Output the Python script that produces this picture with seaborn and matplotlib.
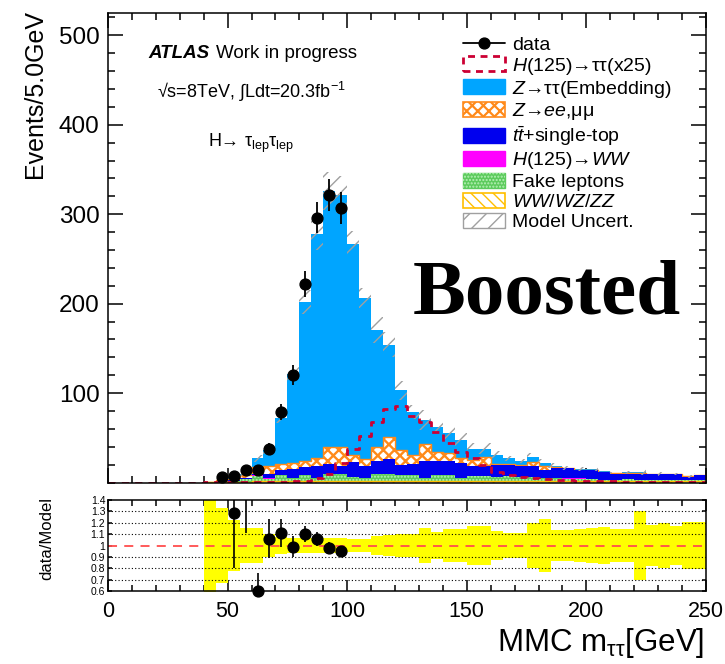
import numpy as np
import matplotlib
matplotlib.use("Agg")
import matplotlib.pyplot as plt
import seaborn as sns
from matplotlib.lines import Line2D
from matplotlib.patches import Patch, Rectangle
from matplotlib.ticker import MultipleLocator, FixedLocator

# ---------------- values ----------------
bin_edges = np.arange(0, 255, 5)            # 5 GeV bins from 0 to 250
bin_centers = bin_edges[:-1] + 2.5

diboson = [0, 0, 0, 0, 0, 0, 0, 0,
           0.3, 0.5, 1, 1, 1.5, 2, 2, 2, 2, 2,
           2, 2, 2, 2, 2, 2, 2, 2, 2, 2,
           2, 2, 2, 2, 2, 2, 2, 2, 2, 2,
           2, 2, 1.5, 1.5, 1.5, 1.5, 1.5, 1.5, 1.5, 1.5, 1.5, 1.5]
fakes = [0, 0, 0, 0, 0, 0, 0, 0,
         0, 1, 1, 3, 6, 2, 6, 3, 6, 3,
         7, 7, 4, 3, 7, 7, 6, 6, 3, 6,
         6, 3, 5, 5, 4, 5, 4, 4, 3, 3,
         2, 2, 2, 1, 1, 2, 1, 1, 1, 1, 1, 1]
hww = [0, 0, 0, 0, 0, 0, 0, 0,
       0, 0, 0.2, 0.3, 0.5, 0.5, 0.5, 0.5, 0.5, 0.5,
       0.5, 0.5, 0.5, 0.5, 0.5, 0.5, 0.5, 0.5, 0.5, 0.5,
       0.5, 0.5, 0.5, 0.5, 0.5, 0.5, 0.5, 0.5, 0.5, 0.5,
       0.5, 0.5, 0.3, 0.3, 0.3, 0.3, 0.3, 0.3, 0.3, 0.3, 0.3, 0.3]
ttbar = [0, 0, 0, 0, 0, 0, 0, 0,
         0.2, 0.5, 0.8, 1.2, 2, 5.5, 5.5, 9.5, 8.5, 12.5,
         11, 9.5, 16, 12.5, 14, 16.5, 11.5, 12, 18.5, 15.5,
         15, 16, 11.5, 11.5, 13.5, 12.5, 12.5, 12.5, 8.5, 11,
         11.5, 9.5, 10.2, 9.2, 7.2, 5.7, 7.2, 6.2, 6.2, 6.2, 3.8, 5.6]
zll = [0, 0, 0, 0, 0, 0, 0, 0,
       0.1, 0.5, 1, 2.5, 7, 9, 7, 7, 7, 9,
       19.5, 21, 8.5, 8, 16.5, 25, 16, 10.5, 19, 10,
       9.5, 5.5, 6, 9.5, 1, 1, 1, 3.5, 4.5, 1,
       0.3, 0.5, 0.3, 0.3, 0.3, 1.5, 0.5, 0.5, 0.2, 0.2, 0.2, 0.2]
ztt = [0, 0, 0, 0, 0, 0, 0, 0,
       0.4, 0.5, 1.4, 1, 10, 17, 51, 99, 178, 251,
       286, 282, 236, 180, 131, 103, 67, 48, 27, 28,
       22, 21, 13, 9.5, 10, 6, 4, 5.5, 3, 1.5,
       0.3, 0.5, 0.3, 0.3, 0.3, 0.3, 0.7, 0.5, 0.3, 0.3, 0.2, 0.2]
signal_x25 = [0, 0, 0, 0, 0, 0, 0, 0,
              0.2, 0.3, 0.5, 0.5, 0.8, 1, 1, 1.5, 2, 5,
              10, 22, 37, 52, 68, 82, 85, 74, 68, 56,
              44, 34, 27, 20, 12, 8.5, 6.6, 5, 4, 3,
              2.5, 2, 1.5, 1.5, 1.2, 1, 1, 0.8, 0.8, 0.7, 0.6, 0.5]
rel_unc = [0, 0, 0, 0, 0, 0, 0, 0,
           0.5, 0.33, 0.22, 0.15, 0.15, 0.10, 0.075, 0.065, 0.065, 0.065,
           0.065, 0.065, 0.055, 0.055, 0.085, 0.09, 0.10, 0.10, 0.155, 0.115,
           0.145, 0.145, 0.175, 0.175, 0.13, 0.11, 0.11, 0.195, 0.235, 0.135,
           0.135, 0.145, 0.15, 0.16, 0.145, 0.145, 0.30, 0.18, 0.195, 0.17, 0.21, 0.21]

data_centers = [47.5, 52.5, 57.5, 62.5, 67.5, 72.5, 77.5, 82.5, 87.5, 92.5, 97.5]
data_counts = [6, 7, 14, 14, 38, 79, 120, 222, 296, 321, 307]

ratio_centers = [52.5, 57.5, 62.5, 67.5, 72.5, 77.5, 82.5, 87.5, 92.5, 97.5]
ratio_values = [1.29, 1.62, 0.60, 1.06, 1.11, 0.99, 1.10, 1.06, 0.98, 0.95]
ratio_errors = [0.49, 0.51, 0.16, 0.17, 0.12, 0.09, 0.07, 0.06, 0.05, 0.05]

# ---------------- style ----------------
sns.set_style("ticks")
plt.rcParams['font.family'] = ['Liberation Sans', 'DejaVu Sans']
plt.rcParams['mathtext.fontset'] = 'custom'
plt.rcParams['mathtext.rm'] = 'Liberation Sans'
plt.rcParams['mathtext.it'] = 'Liberation Sans:italic'
plt.rcParams['mathtext.bf'] = 'Liberation Sans:bold'
plt.rcParams['axes.linewidth'] = 1.1
for key in ['text.color', 'axes.labelcolor', 'axes.edgecolor', 'xtick.color',
            'ytick.color', 'xtick.labelcolor', 'ytick.labelcolor']:
    plt.rcParams[key] = 'black'

# per-artist hatch width support (matplotlib >= 3.10 stores it on the artist)
PER_ARTIST_HATCH = hasattr(Rectangle((0, 0), 1, 1), '_hatch_linewidth')
plt.rcParams['hatch.linewidth'] = 1.0 if PER_ARTIST_HATCH else 1.6

C_ZTT = '#00A5FF'
C_ZLL = '#FF8A1A'
C_TT = '#0000EE'
C_HWW = '#FF00FF'
C_FAKE = '#5CCB5C'
C_FAKE_DOT = '#B8F0B8'
C_DIB = '#FFBF00'
C_SIG = '#CC0033'
C_UNC = '#A0A0A0' if PER_ARTIST_HATCH else '#C4C4C4'
ZLL_HATCH = 'xxx'


def set_hlw(artist, lw):
    if hasattr(artist, 'set_hatch_linewidth'):
        try:
            artist.set_hatch_linewidth(lw)
        except Exception:
            pass
    if hasattr(artist, '_hatch_linewidth'):
        artist._hatch_linewidth = lw


fig = plt.figure(figsize=(7.25, 6.64), dpi=100)
W, H = 725.0, 664.0
ax = fig.add_axes([108 / W, 1 - 482.5 / H, 598 / W, 469.5 / H])
ax2 = fig.add_axes([108 / W, 1 - 591 / H, 598 / W, 91 / H])

# ---------------- stacked model ----------------
comps = np.array([diboson, fakes, hww, ttbar, zll, ztt], dtype=float)
cum = np.cumsum(comps, axis=0)
total = cum[-1]
start = int(np.argmax(total > 0))
xc = bin_centers[start:]
edges = [float(e) for e in bin_edges[start:]]


def layer(weights, **kw):
    n0 = len(ax.collections)
    sns.histplot(x=xc, weights=np.asarray(weights)[start:], bins=edges,
                 element="step", fill=True, alpha=1, ax=ax, **kw)
    return ax.collections[n0:]


layer(cum[5], color=C_ZTT, facecolor=C_ZTT, edgecolor=C_ZTT, linewidth=0)
with plt.rc_context({'hatch.linewidth': 1.7}):
    zll_art = layer(cum[4], color=C_ZLL, facecolor='white', edgecolor=C_ZLL,
                    hatch=ZLL_HATCH, linewidth=1.0)
for a in zll_art:
    set_hlw(a, 1.7)
layer(cum[3], color=C_TT, facecolor=C_TT, edgecolor=C_TT, linewidth=0)
layer(cum[2], color=C_HWW, facecolor=C_HWW, edgecolor=C_HWW, linewidth=0)
layer(cum[1], color=C_FAKE, facecolor=C_FAKE, edgecolor=C_FAKE, linewidth=0)
layer(cum[1], color=C_FAKE, facecolor='none', edgecolor=C_FAKE_DOT,
      hatch='.....', linewidth=0)
layer(cum[0], color=C_DIB, facecolor='white', edgecolor=C_DIB,
      hatch='\\\\\\', linewidth=1.0)

# model uncertainty hatch
tot_ext = np.append(total, total[-1])
unc_ext = np.append(np.asarray(rel_unc), rel_unc[-1])
ax.fill_between(bin_edges, tot_ext * (1 - unc_ext), tot_ext * (1 + unc_ext),
                step='post', facecolor='none', edgecolor=C_UNC,
                hatch='//', linewidth=0, zorder=3)

# signal (x25)
sns.histplot(x=bin_centers, weights=signal_x25, bins=[float(e) for e in bin_edges],
             element="step", fill=False, color=C_SIG, linewidth=2.0,
             linestyle=(0, (2.6, 2.2)), ax=ax, zorder=4)

# data
dc = np.asarray(data_counts, float)
ax.errorbar(data_centers, dc, yerr=np.sqrt(dc), fmt='o', color='k', ms=7.8,
            elinewidth=1.3, capsize=0, zorder=6)

ax.set_xlim(0, 250)
ax.set_ylim(0, 525)
ax.set_xlabel('')
ax.set_ylabel('')
ax.xaxis.set_major_locator(MultipleLocator(50))
ax.xaxis.set_minor_locator(MultipleLocator(10))
ax.yaxis.set_major_locator(FixedLocator([100, 200, 300, 400, 500]))
ax.yaxis.set_minor_locator(MultipleLocator(20))
ax.tick_params(which='both', direction='in', top=True, right=True,
               labelbottom=False, width=1.1, color='k')
ax.tick_params(which='major', length=10.5)
ax.tick_params(which='minor', length=5)
ax.tick_params(axis='y', labelsize=17.5, pad=6)
for s in ax.spines.values():
    s.set_zorder(10)

# texts
ax.text(0.067, 0.905, 'ATLAS', transform=ax.transAxes, fontsize=13.5,
        fontweight='bold', fontstyle='italic', va='baseline')
ax.text(0.18, 0.905, 'Work in progress', transform=ax.transAxes, fontsize=13.5,
        va='baseline')
ax.text(0.082, 0.819, '√s=8TeV, ∫Ldt=20.3fb$^{\\mathregular{-1}}$',
        transform=ax.transAxes, fontsize=13, va='baseline')
ax.text(0.167, 0.7146, 'H→ τ$_{\\mathregular{lep}}$τ$_{\\mathregular{lep}}$',
        transform=ax.transAxes, fontsize=13, va='baseline')
ax.text(0.51, 0.361, 'Boosted', transform=ax.transAxes, fontsize=57,
        fontweight='bold', family=['Liberation Serif', 'DejaVu Serif'],
        va='baseline', color='black')

# legend
handles = [
    Line2D([], [], color='k', marker='o', ms=7.8, lw=1.3),
    Patch(facecolor='none', edgecolor=C_SIG, linestyle=(0, (2.5, 2)), linewidth=2),
    Patch(facecolor=C_ZTT, edgecolor=C_ZTT),
    Patch(facecolor='white', edgecolor=C_ZLL, hatch=ZLL_HATCH, linewidth=1.2),
    Patch(facecolor=C_TT, edgecolor=C_TT),
    Patch(facecolor=C_HWW, edgecolor=C_HWW),
    (Patch(facecolor=C_FAKE, edgecolor=C_FAKE),
     Patch(facecolor='none', edgecolor=C_FAKE_DOT, hatch='.....', linewidth=0)),
    Patch(facecolor='white', edgecolor=C_DIB, hatch='\\\\\\', linewidth=1.2),
    Patch(facecolor='white', edgecolor=C_UNC, hatch='//', linewidth=1.0),
]
labels = [
    'data',
    '$\\mathit{H}$(125)→ττ(x25)',
    '$\\mathit{Z}$→ττ(Embedding)',
    '$\\mathit{Z}$→$\\mathit{ee}$,μμ',
    '$\\mathit{t\\bar{t}}$+single-top',
    '$\\mathit{H}$(125)→$\\mathit{WW}$',
    'Fake leptons',
    '$\\mathit{WW/WZ/ZZ}$',
    'Model Uncert.',
]
leg = ax.legend(handles, labels, loc='upper left', bbox_to_anchor=(0.594, 0.952),
                frameon=False, fontsize=14, borderpad=0, borderaxespad=0,
                handlelength=2.15, handleheight=0.78, handletextpad=0.35,
                labelspacing=0.1)
leg.set_zorder(12)
for p in leg.get_patches():
    if p.get_hatch() == ZLL_HATCH:
        set_hlw(p, 1.6)

# axis titles
fig.text(35 / W, 1 - 10 / H, 'Events/5.0GeV', rotation=90, ha='center', va='top',
         fontsize=18)
fig.text(704 / W, 1 - 651 / H, 'MMC m$_{\\mathregular{\\tau\\tau}}$[GeV]', ha='right',
         va='baseline', fontsize=22.5)
fig.text(47 / W, 1 - 539 / H, 'data/Model', rotation=90, ha='center', va='center',
         fontsize=12)

# ---------------- ratio panel ----------------
ax2.fill_between(bin_edges, 1 - unc_ext, 1 + unc_ext, step='post',
                 color='#FFFF00', linewidth=0, zorder=1)
for yv in [0.7, 0.8, 0.9, 1.1, 1.2, 1.3]:
    ax2.axhline(yv, color='k', ls=(0, (1, 2)), lw=0.8, zorder=2)
ax2.axhline(1.0, color='#FF4D4D', ls=(0, (5, 4)), lw=1.3, zorder=3)
rc = np.asarray(ratio_centers)
rv = np.asarray(ratio_values)
re = np.asarray(ratio_errors)
ax2.vlines(rc, rv - re, rv + re, color='k', lw=1.2, zorder=4)
inside = (rv >= 0.6) & (rv <= 1.4)
ax2.plot(rc[inside], rv[inside], 'o', color='k', ms=7.8, zorder=5, clip_on=False)

ax2.set_xlim(0, 250)
ax2.set_ylim(0.6, 1.4)
ax2.xaxis.set_major_locator(MultipleLocator(50))
ax2.xaxis.set_minor_locator(MultipleLocator(10))
ax2.set_yticks([0.6, 0.7, 0.8, 0.9, 1.0, 1.1, 1.2, 1.3, 1.4])
ax2.set_yticklabels(['0.6', '0.7', '0.8', '0.9', '1', '1.1', '1.2', '1.3', '1.4'])
ax2.tick_params(which='both', direction='in', top=True, right=True, width=1.1)
ax2.tick_params(axis='x', which='major', length=8, labelsize=15.5, pad=7)
ax2.tick_params(axis='x', which='minor', length=4)
ax2.tick_params(axis='y', which='major', length=3, labelsize=7.5, pad=2)
for s in ax2.spines.values():
    s.set_zorder(10)

fig.savefig('out.png', dpi=100)
